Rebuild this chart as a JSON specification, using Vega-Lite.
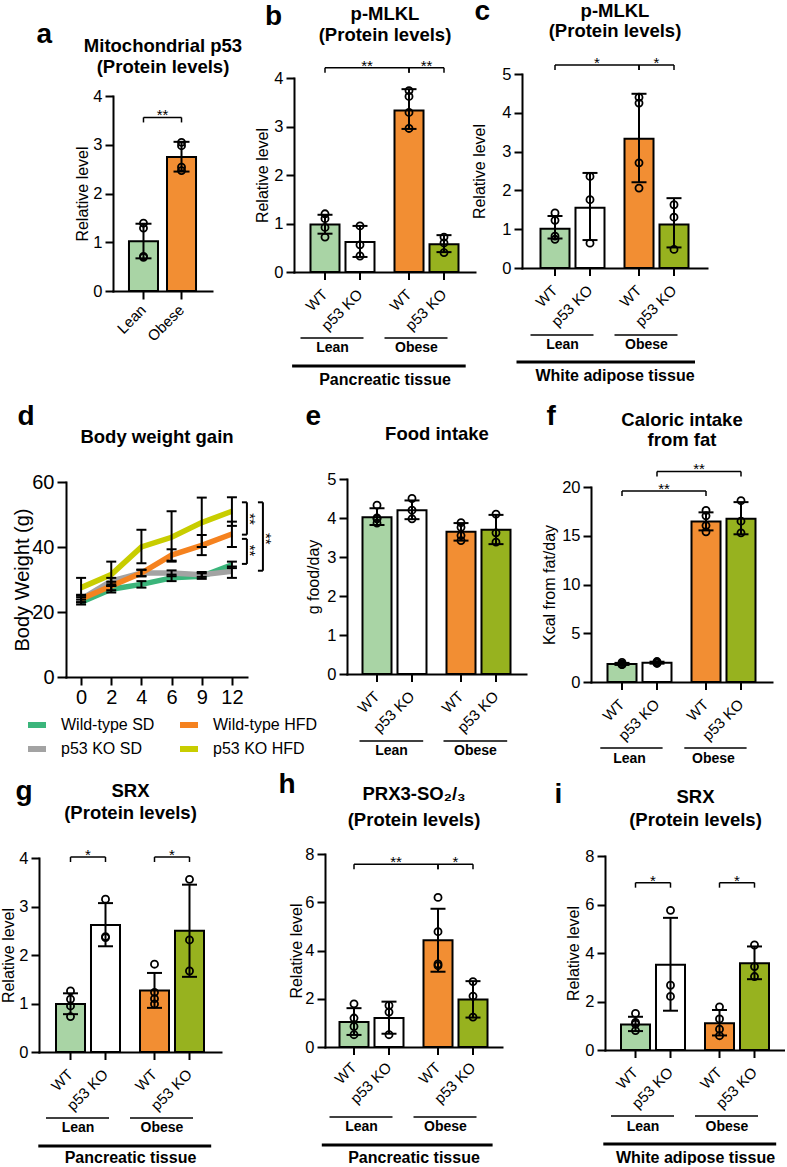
{
"$schema":"https://vega.github.io/schema/vega-lite/v6.json",
"padding":{"left":0,"top":-3,"right":0,"bottom":0},
"autosize":{"type":"pad"},
"bounds":"flush",
"spacing":405,
"config":{"font":"Liberation Sans","view":{"stroke":null},
"axis":{"domainColor":"black","domainWidth":2,"tickColor":"black","tickWidth":2,"tickSize":8,"labelColor":"black","titleColor":"black","labelFontSize":16.5,"titleFontSize":16,"titleFontWeight":"normal","labelPadding":3,"grid":false,"domainCap":"square"},
"text":{"color":"black"}},
"datasets":{
"bars":[
{"p":"a","group":"Lean","genotype":"WT","mean":1.02,"lo":0.67,"hi":1.38},
{"p":"a","group":"Obese","genotype":"WT","mean":2.75,"lo":2.45,"hi":3.06},
{"p":"b","group":"Lean","genotype":"WT","mean":0.98,"lo":0.79,"hi":1.18},
{"p":"b","group":"Lean","genotype":"p53 KO","mean":0.62,"lo":0.31,"hi":0.95},
{"p":"b","group":"Obese","genotype":"WT","mean":3.33,"lo":2.95,"hi":3.77},
{"p":"b","group":"Obese","genotype":"p53 KO","mean":0.57,"lo":0.41,"hi":0.76},
{"p":"c","group":"Lean","genotype":"WT","mean":1.01,"lo":0.76,"hi":1.34},
{"p":"c","group":"Lean","genotype":"p53 KO","mean":1.55,"lo":0.72,"hi":2.45},
{"p":"c","group":"Obese","genotype":"WT","mean":3.33,"lo":2.21,"hi":4.49},
{"p":"c","group":"Obese","genotype":"p53 KO","mean":1.12,"lo":0.53,"hi":1.8},
{"p":"e","group":"Lean","genotype":"WT","mean":4.02,"lo":3.82,"hi":4.25},
{"p":"e","group":"Lean","genotype":"p53 KO","mean":4.2,"lo":3.97,"hi":4.45},
{"p":"e","group":"Obese","genotype":"WT","mean":3.65,"lo":3.42,"hi":3.87},
{"p":"e","group":"Obese","genotype":"p53 KO","mean":3.7,"lo":3.33,"hi":4.08},
{"p":"f","group":"Lean","genotype":"WT","mean":1.85,"lo":1.75,"hi":1.96},
{"p":"f","group":"Lean","genotype":"p53 KO","mean":1.98,"lo":1.88,"hi":2.08},
{"p":"f","group":"Obese","genotype":"WT","mean":16.45,"lo":15.55,"hi":17.4},
{"p":"f","group":"Obese","genotype":"p53 KO","mean":16.75,"lo":15.15,"hi":18.45},
{"p":"g","group":"Lean","genotype":"WT","mean":0.99,"lo":0.78,"hi":1.21},
{"p":"g","group":"Lean","genotype":"p53 KO","mean":2.62,"lo":2.18,"hi":3.07},
{"p":"g","group":"Obese","genotype":"WT","mean":1.27,"lo":0.91,"hi":1.63},
{"p":"g","group":"Obese","genotype":"p53 KO","mean":2.5,"lo":1.55,"hi":3.45},
{"p":"h","group":"Lean","genotype":"WT","mean":1.04,"lo":0.5,"hi":1.61},
{"p":"h","group":"Lean","genotype":"p53 KO","mean":1.2,"lo":0.55,"hi":1.88},
{"p":"h","group":"Obese","genotype":"WT","mean":4.42,"lo":3.12,"hi":5.73},
{"p":"h","group":"Obese","genotype":"p53 KO","mean":1.97,"lo":1.22,"hi":2.73},
{"p":"i","group":"Lean","genotype":"WT","mean":1.05,"lo":0.78,"hi":1.37},
{"p":"i","group":"Lean","genotype":"p53 KO","mean":3.52,"lo":1.62,"hi":5.45},
{"p":"i","group":"Obese","genotype":"WT","mean":1.1,"lo":0.6,"hi":1.65},
{"p":"i","group":"Obese","genotype":"p53 KO","mean":3.58,"lo":2.92,"hi":4.27}
],
"pts":[
{"p":"a","group":"Lean","genotype":"WT","v":1.39},{"p":"a","group":"Lean","genotype":"WT","v":1.29},{"p":"a","group":"Lean","genotype":"WT","v":0.71},{"p":"a","group":"Lean","genotype":"WT","v":0.69},
{"p":"a","group":"Obese","genotype":"WT","v":3.05},{"p":"a","group":"Obese","genotype":"WT","v":2.98},{"p":"a","group":"Obese","genotype":"WT","v":2.54},{"p":"a","group":"Obese","genotype":"WT","v":2.47},
{"p":"b","group":"Lean","genotype":"WT","v":1.2},{"p":"b","group":"Lean","genotype":"WT","v":1.1},{"p":"b","group":"Lean","genotype":"WT","v":0.92},{"p":"b","group":"Lean","genotype":"WT","v":0.72},
{"p":"b","group":"Lean","genotype":"p53 KO","v":0.95},{"p":"b","group":"Lean","genotype":"p53 KO","v":0.56},{"p":"b","group":"Lean","genotype":"p53 KO","v":0.33},
{"p":"b","group":"Obese","genotype":"WT","v":3.74},{"p":"b","group":"Obese","genotype":"WT","v":3.62},{"p":"b","group":"Obese","genotype":"WT","v":3.29},{"p":"b","group":"Obese","genotype":"WT","v":2.96},
{"p":"b","group":"Obese","genotype":"p53 KO","v":0.72},{"p":"b","group":"Obese","genotype":"p53 KO","v":0.6},{"p":"b","group":"Obese","genotype":"p53 KO","v":0.4},
{"p":"c","group":"Lean","genotype":"WT","v":1.42},{"p":"c","group":"Lean","genotype":"WT","v":1.23},{"p":"c","group":"Lean","genotype":"WT","v":0.82},{"p":"c","group":"Lean","genotype":"WT","v":0.74},
{"p":"c","group":"Lean","genotype":"p53 KO","v":2.36},{"p":"c","group":"Lean","genotype":"p53 KO","v":1.76},{"p":"c","group":"Lean","genotype":"p53 KO","v":0.64},
{"p":"c","group":"Obese","genotype":"WT","v":4.4},{"p":"c","group":"Obese","genotype":"WT","v":4.25},{"p":"c","group":"Obese","genotype":"WT","v":2.71},{"p":"c","group":"Obese","genotype":"WT","v":2.06},
{"p":"c","group":"Obese","genotype":"p53 KO","v":1.63},{"p":"c","group":"Obese","genotype":"p53 KO","v":1.31},{"p":"c","group":"Obese","genotype":"p53 KO","v":0.48},
{"p":"e","group":"Lean","genotype":"WT","v":4.33},{"p":"e","group":"Lean","genotype":"WT","v":4.0},{"p":"e","group":"Lean","genotype":"WT","v":3.98},{"p":"e","group":"Lean","genotype":"WT","v":3.87},
{"p":"e","group":"Lean","genotype":"p53 KO","v":4.5},{"p":"e","group":"Lean","genotype":"p53 KO","v":4.2},{"p":"e","group":"Lean","genotype":"p53 KO","v":3.98},
{"p":"e","group":"Obese","genotype":"WT","v":3.88},{"p":"e","group":"Obese","genotype":"WT","v":3.76},{"p":"e","group":"Obese","genotype":"WT","v":3.55},{"p":"e","group":"Obese","genotype":"WT","v":3.42},
{"p":"e","group":"Obese","genotype":"p53 KO","v":4.1},{"p":"e","group":"Obese","genotype":"p53 KO","v":3.62},{"p":"e","group":"Obese","genotype":"p53 KO","v":3.38},
{"p":"f","group":"Lean","genotype":"WT","v":2.0},{"p":"f","group":"Lean","genotype":"WT","v":1.85},{"p":"f","group":"Lean","genotype":"WT","v":1.8},{"p":"f","group":"Lean","genotype":"WT","v":1.78},
{"p":"f","group":"Lean","genotype":"p53 KO","v":2.1},{"p":"f","group":"Lean","genotype":"p53 KO","v":2.0},{"p":"f","group":"Lean","genotype":"p53 KO","v":1.9},
{"p":"f","group":"Obese","genotype":"WT","v":17.6},{"p":"f","group":"Obese","genotype":"WT","v":17.05},{"p":"f","group":"Obese","genotype":"WT","v":16.05},{"p":"f","group":"Obese","genotype":"WT","v":15.4},
{"p":"f","group":"Obese","genotype":"p53 KO","v":18.6},{"p":"f","group":"Obese","genotype":"p53 KO","v":16.5},{"p":"f","group":"Obese","genotype":"p53 KO","v":15.3},
{"p":"g","group":"Lean","genotype":"WT","v":1.26},{"p":"g","group":"Lean","genotype":"WT","v":1.09},{"p":"g","group":"Lean","genotype":"WT","v":0.95},{"p":"g","group":"Lean","genotype":"WT","v":0.73},
{"p":"g","group":"Lean","genotype":"p53 KO","v":3.15},{"p":"g","group":"Lean","genotype":"p53 KO","v":2.38},{"p":"g","group":"Lean","genotype":"p53 KO","v":2.36},
{"p":"g","group":"Obese","genotype":"WT","v":1.81},{"p":"g","group":"Obese","genotype":"WT","v":1.23},{"p":"g","group":"Obese","genotype":"WT","v":1.1},{"p":"g","group":"Obese","genotype":"WT","v":0.99},
{"p":"g","group":"Obese","genotype":"p53 KO","v":3.56},{"p":"g","group":"Obese","genotype":"p53 KO","v":2.31},{"p":"g","group":"Obese","genotype":"p53 KO","v":1.67},
{"p":"h","group":"Lean","genotype":"WT","v":1.79},{"p":"h","group":"Lean","genotype":"WT","v":1.2},{"p":"h","group":"Lean","genotype":"WT","v":0.85},{"p":"h","group":"Lean","genotype":"WT","v":0.51},
{"p":"h","group":"Lean","genotype":"p53 KO","v":1.72},{"p":"h","group":"Lean","genotype":"p53 KO","v":1.45},{"p":"h","group":"Lean","genotype":"p53 KO","v":0.51},
{"p":"h","group":"Obese","genotype":"WT","v":6.2},{"p":"h","group":"Obese","genotype":"WT","v":4.78},{"p":"h","group":"Obese","genotype":"WT","v":3.44},{"p":"h","group":"Obese","genotype":"WT","v":3.37},
{"p":"h","group":"Obese","genotype":"p53 KO","v":2.71},{"p":"h","group":"Obese","genotype":"p53 KO","v":2.11},{"p":"h","group":"Obese","genotype":"p53 KO","v":1.24},
{"p":"i","group":"Lean","genotype":"WT","v":1.51},{"p":"i","group":"Lean","genotype":"WT","v":1.14},{"p":"i","group":"Lean","genotype":"WT","v":1.07},{"p":"i","group":"Lean","genotype":"WT","v":0.8},
{"p":"i","group":"Lean","genotype":"p53 KO","v":5.76},{"p":"i","group":"Lean","genotype":"p53 KO","v":2.67},{"p":"i","group":"Lean","genotype":"p53 KO","v":2.21},
{"p":"i","group":"Obese","genotype":"WT","v":1.78},{"p":"i","group":"Obese","genotype":"WT","v":1.28},{"p":"i","group":"Obese","genotype":"WT","v":0.86},{"p":"i","group":"Obese","genotype":"WT","v":0.59},
{"p":"i","group":"Obese","genotype":"p53 KO","v":4.33},{"p":"i","group":"Obese","genotype":"p53 KO","v":3.44},{"p":"i","group":"Obese","genotype":"p53 KO","v":3.03}
],
"sig":[
{"p":"a","g1":"Lean","k1":"WT","g2":"Obese","k2":"WT","y":3.56,"label":"**"},
{"p":"b","g1":"Lean","k1":"WT","g2":"Obese","k2":"WT","y":4.21,"label":"**"},
{"p":"b","g1":"Obese","k1":"WT","g2":"Obese","k2":"p53 KO","y":4.21,"label":"**"},
{"p":"c","g1":"Lean","k1":"WT","g2":"Obese","k2":"WT","y":5.23,"label":"*"},
{"p":"c","g1":"Obese","k1":"WT","g2":"Obese","k2":"p53 KO","y":5.23,"label":"*"},
{"p":"f","g1":"Lean","k1":"WT","g2":"Obese","k2":"WT","y":19.6,"label":"**"},
{"p":"f","g1":"Lean","k1":"p53 KO","g2":"Obese","k2":"p53 KO","y":21.6,"label":"**"},
{"p":"g","g1":"Lean","k1":"WT","g2":"Lean","k2":"p53 KO","y":4.02,"label":"*"},
{"p":"g","g1":"Obese","k1":"WT","g2":"Obese","k2":"p53 KO","y":4.02,"label":"*"},
{"p":"h","g1":"Lean","k1":"WT","g2":"Obese","k2":"WT","y":7.58,"label":"**"},
{"p":"h","g1":"Obese","k1":"WT","g2":"Obese","k2":"p53 KO","y":7.58,"label":"*"},
{"p":"i","g1":"Lean","k1":"WT","g2":"Lean","k2":"p53 KO","y":6.9,"label":"*"},
{"p":"i","g1":"Obese","k1":"WT","g2":"Obese","k2":"p53 KO","y":6.9,"label":"*"}
],
"wt":[
{"series":"Wild-type SD","week":0,"w":23,"lo":22.3,"hi":23.8},{"series":"Wild-type SD","week":2,"w":27,"lo":26,"hi":28},{"series":"Wild-type SD","week":4,"w":28.5,"lo":27.5,"hi":29.5},{"series":"Wild-type SD","week":6,"w":30.5,"lo":29.5,"hi":31.5},{"series":"Wild-type SD","week":9,"w":31,"lo":30.2,"hi":31.9},{"series":"Wild-type SD","week":12,"w":34.5,"lo":33.5,"hi":35.5},
{"series":"p53 KO SD","week":0,"w":24,"lo":23,"hi":25},{"series":"p53 KO SD","week":2,"w":29.5,"lo":28.5,"hi":30.5},{"series":"p53 KO SD","week":4,"w":32,"lo":31,"hi":33},{"series":"p53 KO SD","week":6,"w":32,"lo":31,"hi":32.8},{"series":"p53 KO SD","week":9,"w":31.5,"lo":30.8,"hi":32.3},{"series":"p53 KO SD","week":12,"w":32.5,"lo":30.5,"hi":34},
{"series":"Wild-type HFD","week":0,"w":24,"lo":23,"hi":25.3},{"series":"Wild-type HFD","week":2,"w":28,"lo":26.7,"hi":29.3},{"series":"Wild-type HFD","week":4,"w":32,"lo":31,"hi":33},{"series":"Wild-type HFD","week":6,"w":37.5,"lo":35.8,"hi":39.3},{"series":"Wild-type HFD","week":9,"w":40.5,"lo":37.5,"hi":43.7},{"series":"Wild-type HFD","week":12,"w":44,"lo":40,"hi":47.8},
{"series":"p53 KO HFD","week":0,"w":27.5,"lo":24.5,"hi":30.5},{"series":"p53 KO HFD","week":2,"w":31.5,"lo":28,"hi":35.5},{"series":"p53 KO HFD","week":4,"w":40,"lo":35,"hi":45.3},{"series":"p53 KO HFD","week":6,"w":43,"lo":35.5,"hi":51},{"series":"p53 KO HFD","week":9,"w":47.5,"lo":40,"hi":55.2},{"series":"p53 KO HFD","week":12,"w":51,"lo":46.5,"hi":55.3}
],
"dsig":[
{"kind":"inner","top":53.75,"bottom":43.8,"mid":48.6,"label":"**"},
{"kind":"inner","top":42.5,"bottom":34.8,"mid":38.9,"label":"**"},
{"kind":"outer","top":53.75,"bottom":32.7,"mid":42.5,"label":"**"}
]
},
"vconcat":[
{"hconcat":[
{"width":235,"height":217,"resolve":{"axis":{"x":"independent","y":"independent"}},"layer":[
{"data":{"name":"bars"},"transform":[{"filter":"datum.p=='a'"}],"mark":{"type":"bar","stroke":"black","strokeWidth":2},
"encoding":{"x":{"field":"group","type":"nominal","scale":{"domain":["Lean","Obese"],"range":[74,173],"paddingInner":0.237,"paddingOuter":0.42},"axis":{"orient":"bottom","labelAngle":-45,"labelAlign":"right","labelBaseline":"middle","labelFontSize":15,"labelPadding":8,"title":null}},
"y":{"field":"mean","type":"quantitative","scale":{"domain":[0,4],"range":[217,22],"nice":false},"axis":{"values":[0,1,2,3,4],"format":"d","title":"Relative level","titleX":-26,"titleBaseline":"alphabetic","offset":-74}},
"fill":{"condition":[{"test":"datum.group=='Lean'&&datum.genotype=='WT'","value":"#a9d4a5"},{"test":"datum.group=='Lean'","value":"#ffffff"},{"test":"datum.genotype=='WT'","value":"#f28e33"}],"value":"#97b21f"}}},
{"data":{"name":"bars"},"transform":[{"filter":"datum.p=='a'"}],"mark":{"type":"rule","color":"black","strokeWidth":2},
"encoding":{"x":{"field":"group","type":"nominal","axis":{"orient":"top","domain":false,"ticks":false,"labels":false,"title":["Mitochondrial p53","(Protein levels)"],"titleY":-22.3,"titleBaseline":"alphabetic","titleFontSize":18.5,"titleFontWeight":"bold","titleLineHeight":20.5}},"y":{"field":"lo","type":"quantitative","axis":null},"y2":{"field":"hi"}}},
{"data":{"name":"bars"},"transform":[{"filter":"datum.p=='a'"}],"mark":{"type":"tick","color":"black","thickness":2,"size":16,"opacity":1},
"encoding":{"x":{"field":"group","type":"nominal","axis":{"orient":"top","domain":false,"ticks":false,"labels":false,"title":"a","titleX":-3,"titleY":-31.7,"titleAlign":"left","titleBaseline":"alphabetic","titleFontSize":28,"titleFontWeight":"bold","titleAngle":0}},"y":{"field":"lo","type":"quantitative","axis":null}}},
{"data":{"name":"bars"},"transform":[{"filter":"datum.p=='a'"}],"mark":{"type":"tick","color":"black","thickness":2,"size":16,"opacity":1},
"encoding":{"x":{"field":"group","type":"nominal","axis":null},"y":{"field":"hi","type":"quantitative","axis":null}}},
{"data":{"name":"pts"},"transform":[{"filter":"datum.p=='a'"}],"mark":{"type":"point","filled":false,"color":"black","strokeWidth":1.8,"size":50,"opacity":1},
"encoding":{"x":{"field":"group","type":"nominal","axis":null},"y":{"field":"v","type":"quantitative","axis":null}}},
{"data":{"name":"sig"},"transform":[{"filter":"datum.p=='a'"}],"mark":{"type":"rule","color":"black","strokeWidth":1.5},
"encoding":{"x":{"field":"g1","type":"nominal","bandPosition":0.5,"axis":null},"x2":{"field":"g2","bandPosition":0.5},"y":{"field":"y","type":"quantitative","axis":null}}},
{"data":{"name":"sig"},"transform":[{"filter":"datum.p=='a'"}],"mark":{"type":"rule","color":"black","strokeWidth":1.5,"y2Offset":5},
"encoding":{"x":{"field":"g1","type":"nominal","axis":null},"y":{"field":"y","type":"quantitative","axis":null},"y2":{"field":"y"}}},
{"data":{"name":"sig"},"transform":[{"filter":"datum.p=='a'"}],"mark":{"type":"rule","color":"black","strokeWidth":1.5,"y2Offset":5},
"encoding":{"x":{"field":"g2","type":"nominal","axis":null},"y":{"field":"y","type":"quantitative","axis":null},"y2":{"field":"y"}}},
{"data":{"name":"sig"},"transform":[{"filter":"datum.p=='a'"}],"mark":{"type":"text","fontSize":15,"baseline":"alphabetic","yOffset":3,"color":"black"},
"encoding":{"x":{"field":"g1","type":"nominal","bandPosition":1.155,"axis":null},"y":{"field":"y","type":"quantitative","axis":null},"text":{"field":"label"}}}
]},
{"width":208,"height":198,"resolve":{"axis":{"x":"independent","y":"independent"}},"layer":[
{"data":{"name":"bars"},"transform":[{"filter":"datum.p=='b'"}],"mark":{"type":"rule","color":"black","strokeWidth":2,"y2Offset":8},
"encoding":{"x":{"field":"group","type":"nominal","scale":{"domain":["Lean","Obese"],"range":[0,181],"paddingInner":0.1667,"paddingOuter":0.1607},"axis":{"orient":"top","domain":false,"ticks":false,"labels":false,"title":["p-MLKL","(Protein levels)"],"titleY":-55,"titleBaseline":"alphabetic","titleFontSize":18.5,"titleFontWeight":"bold","titleLineHeight":21.5}},
"xOffset":{"field":"genotype","type":"nominal","scale":{"domain":["WT","p53 KO"],"paddingInner":0.171,"paddingOuter":0.0857}},
"y":{"datum":0,"type":"quantitative","scale":{"domain":[0,4],"range":[198,4],"nice":false},"axis":{"values":[0,1,2,3,4],"format":"d","title":"Relative level","titleX":-27,"titleBaseline":"alphabetic"}},"y2":{"datum":0}}},
{"data":{"name":"bars"},"transform":[{"filter":"datum.p=='b'"}],"mark":{"type":"bar","stroke":"black","strokeWidth":2},
"encoding":{"x":{"field":"group","type":"nominal","axis":{"orient":"bottom","ticks":false,"labelFontSize":14,"labelFontWeight":"bold","labelPadding":75,"labelBaseline":"middle","labelAngle":0,"labelOffset":-10,"title":"Pancreatic tissue","titleFontSize":16,"titleFontWeight":"bold","titleY":107,"titleBaseline":"middle"}},
"xOffset":{"field":"genotype","type":"nominal"},"y":{"field":"mean","type":"quantitative","axis":null},
"fill":{"condition":[{"test":"datum.group=='Lean'&&datum.genotype=='WT'","value":"#a9d4a5"},{"test":"datum.group=='Lean'","value":"#ffffff"},{"test":"datum.genotype=='WT'","value":"#f28e33"}],"value":"#97b21f"}}},
{"data":{"name":"bars"},"transform":[{"filter":"datum.p=='b'"}],"mark":{"type":"rule","color":"black","strokeWidth":2},
"encoding":{"x":{"field":"group","type":"nominal","axis":null},"xOffset":{"field":"genotype","type":"nominal"},"y":{"field":"lo","type":"quantitative","axis":null},"y2":{"field":"hi"}}},
{"data":{"name":"bars"},"transform":[{"filter":"datum.p=='b'"}],"mark":{"type":"tick","color":"black","thickness":2,"size":15,"opacity":1},
"encoding":{"x":{"field":"group","type":"nominal","axis":null},"xOffset":{"field":"genotype","type":"nominal"},"y":{"field":"lo","type":"quantitative","axis":null}}},
{"data":{"name":"bars"},"transform":[{"filter":"datum.p=='b'"}],"mark":{"type":"tick","color":"black","thickness":2,"size":15,"opacity":1},
"encoding":{"x":{"field":"group","type":"nominal","axis":null},"xOffset":{"field":"genotype","type":"nominal"},"y":{"field":"hi","type":"quantitative","axis":null}}},
{"data":{"name":"pts"},"transform":[{"filter":"datum.p=='b'"}],"mark":{"type":"point","filled":false,"color":"black","strokeWidth":1.8,"size":50,"opacity":1},
"encoding":{"x":{"field":"group","type":"nominal","axis":null},"xOffset":{"field":"genotype","type":"nominal"},"y":{"field":"v","type":"quantitative","axis":null}}},
{"data":{"name":"bars"},"transform":[{"filter":"datum.p=='b'"}],"mark":{"type":"text","angle":315,"align":"right","baseline":"middle","fontSize":15,"yOffset":20,"xOffset":2,"color":"black"},
"encoding":{"x":{"field":"group","type":"nominal","axis":{"orient":"top","domain":false,"ticks":false,"labels":false,"title":"b","titleX":-29.5,"titleY":-50,"titleAlign":"left","titleBaseline":"alphabetic","titleFontSize":28,"titleFontWeight":"bold","titleAngle":0}},"xOffset":{"field":"genotype","type":"nominal"},"y":{"datum":0,"type":"quantitative","axis":null},"text":{"field":"genotype"}}},
{"data":{"name":"bars"},"transform":[{"filter":"datum.p=='b'&&datum.genotype=='WT'"}],"mark":{"type":"rule","color":"black","strokeWidth":1.5,"yOffset":66},
"encoding":{"x":{"field":"group","type":"nominal","bandPosition":-0.1,"axis":null},"x2":{"field":"group","bandPosition":0.8},"y":{"datum":0,"type":"quantitative","axis":null}}},
{"data":{"name":"bars"},"transform":[{"filter":"datum.p=='b'&&datum.genotype=='WT'&&datum.group=='Lean'"}],"mark":{"type":"rule","color":"black","strokeWidth":3,"yOffset":94},
"encoding":{"x":{"datum":"Lean","type":"nominal","bandPosition":-0.22,"axis":null},"x2":{"datum":"Obese","bandPosition":1.06},"y":{"datum":0,"type":"quantitative","axis":null}}},
{"data":{"name":"sig"},"transform":[{"filter":"datum.p=='b'&&datum.k1==datum.k2&&datum.k1=='WT'"}],"mark":{"type":"rule","color":"black","strokeWidth":1.5},
"encoding":{"x":{"field":"g1","type":"nominal","bandPosition":0.25,"axis":null},"x2":{"field":"g2","bandPosition":0.25},"y":{"field":"y","type":"quantitative","axis":null}}},
{"data":{"name":"sig"},"transform":[{"filter":"datum.p=='b'&&datum.k1!=datum.k2"}],"mark":{"type":"rule","color":"black","strokeWidth":1.5},
"encoding":{"x":{"field":"g1","type":"nominal","bandPosition":0.25,"axis":null},"x2":{"field":"g2","bandPosition":0.75},"y":{"field":"y","type":"quantitative","axis":null}}},
{"data":{"name":"sig"},"transform":[{"filter":"datum.p=='b'"}],"mark":{"type":"rule","color":"black","strokeWidth":1.5,"y2Offset":5},
"encoding":{"x":{"field":"g1","type":"nominal","axis":null},"xOffset":{"field":"k1","type":"nominal"},"y":{"field":"y","type":"quantitative","axis":null},"y2":{"field":"y"}}},
{"data":{"name":"sig"},"transform":[{"filter":"datum.p=='b'"}],"mark":{"type":"rule","color":"black","strokeWidth":1.5,"y2Offset":5},
"encoding":{"x":{"field":"g2","type":"nominal","axis":null},"xOffset":{"field":"k2","type":"nominal"},"y":{"field":"y","type":"quantitative","axis":null},"y2":{"field":"y"}}},
{"data":{"name":"sig"},"transform":[{"filter":"datum.p=='b'&&datum.k1==datum.k2&&datum.k1=='WT'"}],"mark":{"type":"text","fontSize":15,"baseline":"alphabetic","yOffset":3,"color":"black"},
"encoding":{"x":{"field":"g1","type":"nominal","bandPosition":0.85,"axis":null},"y":{"field":"y","type":"quantitative","axis":null},"text":{"field":"label"}}},
{"data":{"name":"sig"},"transform":[{"filter":"datum.p=='b'&&datum.k1!=datum.k2"}],"mark":{"type":"text","fontSize":15,"baseline":"alphabetic","yOffset":3,"color":"black"},
"encoding":{"x":{"field":"g1","type":"nominal","bandPosition":0.5,"axis":null},"y":{"field":"y","type":"quantitative","axis":null},"text":{"field":"label"}}}
]},
{"width":185,"height":194,"resolve":{"axis":{"x":"independent","y":"independent"}},"layer":[
{"data":{"name":"bars"},"transform":[{"filter":"datum.p=='c'"}],"mark":{"type":"rule","color":"black","strokeWidth":2,"y2Offset":8},
"encoding":{"x":{"field":"group","type":"nominal","scale":{"domain":["Lean","Obese"],"range":[0,185],"paddingInner":0.1667,"paddingOuter":0.1845},"axis":{"orient":"top","domain":false,"ticks":false,"labels":false,"title":["p-MLKL","(Protein levels)"],"titleY":-58,"titleBaseline":"alphabetic","titleFontSize":18.5,"titleFontWeight":"bold","titleLineHeight":20.5}},
"xOffset":{"field":"genotype","type":"nominal","scale":{"domain":["WT","p53 KO"],"paddingInner":0.171,"paddingOuter":0.0857}},
"y":{"datum":0,"type":"quantitative","scale":{"domain":[0,5],"range":[194,0],"nice":false},"axis":{"values":[0,1,2,3,4,5],"format":"d","title":"Relative level","titleX":-38,"titleBaseline":"alphabetic"}},"y2":{"datum":0}}},
{"data":{"name":"bars"},"transform":[{"filter":"datum.p=='c'"}],"mark":{"type":"bar","stroke":"black","strokeWidth":2},
"encoding":{"x":{"field":"group","type":"nominal","axis":{"orient":"bottom","ticks":false,"labelFontSize":14,"labelFontWeight":"bold","labelPadding":76,"labelBaseline":"middle","labelAngle":0,"labelOffset":-10,"title":"White adipose tissue","titleFontSize":16,"titleFontWeight":"bold","titleY":107,"titleBaseline":"middle"}},
"xOffset":{"field":"genotype","type":"nominal"},"y":{"field":"mean","type":"quantitative","axis":null},
"fill":{"condition":[{"test":"datum.group=='Lean'&&datum.genotype=='WT'","value":"#a9d4a5"},{"test":"datum.group=='Lean'","value":"#ffffff"},{"test":"datum.genotype=='WT'","value":"#f28e33"}],"value":"#97b21f"}}},
{"data":{"name":"bars"},"transform":[{"filter":"datum.p=='c'"}],"mark":{"type":"rule","color":"black","strokeWidth":2},
"encoding":{"x":{"field":"group","type":"nominal","axis":null},"xOffset":{"field":"genotype","type":"nominal"},"y":{"field":"lo","type":"quantitative","axis":null},"y2":{"field":"hi"}}},
{"data":{"name":"bars"},"transform":[{"filter":"datum.p=='c'"}],"mark":{"type":"tick","color":"black","thickness":2,"size":15,"opacity":1},
"encoding":{"x":{"field":"group","type":"nominal","axis":null},"xOffset":{"field":"genotype","type":"nominal"},"y":{"field":"lo","type":"quantitative","axis":null}}},
{"data":{"name":"bars"},"transform":[{"filter":"datum.p=='c'"}],"mark":{"type":"tick","color":"black","thickness":2,"size":15,"opacity":1},
"encoding":{"x":{"field":"group","type":"nominal","axis":null},"xOffset":{"field":"genotype","type":"nominal"},"y":{"field":"hi","type":"quantitative","axis":null}}},
{"data":{"name":"pts"},"transform":[{"filter":"datum.p=='c'"}],"mark":{"type":"point","filled":false,"color":"black","strokeWidth":1.8,"size":50,"opacity":1},
"encoding":{"x":{"field":"group","type":"nominal","axis":null},"xOffset":{"field":"genotype","type":"nominal"},"y":{"field":"v","type":"quantitative","axis":null}}},
{"data":{"name":"bars"},"transform":[{"filter":"datum.p=='c'"}],"mark":{"type":"text","angle":315,"align":"right","baseline":"middle","fontSize":15,"yOffset":20,"xOffset":2,"color":"black"},
"encoding":{"x":{"field":"group","type":"nominal","axis":{"orient":"top","domain":false,"ticks":false,"labels":false,"title":"c","titleX":-48,"titleY":-55,"titleAlign":"left","titleBaseline":"alphabetic","titleFontSize":28,"titleFontWeight":"bold","titleAngle":0}},"xOffset":{"field":"genotype","type":"nominal"},"y":{"datum":0,"type":"quantitative","axis":null},"text":{"field":"genotype"}}},
{"data":{"name":"bars"},"transform":[{"filter":"datum.p=='c'&&datum.genotype=='WT'"}],"mark":{"type":"rule","color":"black","strokeWidth":1.5,"yOffset":67},
"encoding":{"x":{"field":"group","type":"nominal","bandPosition":-0.1,"axis":null},"x2":{"field":"group","bandPosition":0.8},"y":{"datum":0,"type":"quantitative","axis":null}}},
{"data":{"name":"bars"},"transform":[{"filter":"datum.p=='c'&&datum.genotype=='WT'&&datum.group=='Lean'"}],"mark":{"type":"rule","color":"black","strokeWidth":3,"yOffset":94},
"encoding":{"x":{"datum":"Lean","type":"nominal","bandPosition":-0.3,"axis":null},"x2":{"datum":"Obese","bandPosition":1.05},"y":{"datum":0,"type":"quantitative","axis":null}}},
{"data":{"name":"sig"},"transform":[{"filter":"datum.p=='c'&&datum.k1==datum.k2&&datum.k1=='WT'"}],"mark":{"type":"rule","color":"black","strokeWidth":1.5},
"encoding":{"x":{"field":"g1","type":"nominal","bandPosition":0.25,"axis":null},"x2":{"field":"g2","bandPosition":0.25},"y":{"field":"y","type":"quantitative","axis":null}}},
{"data":{"name":"sig"},"transform":[{"filter":"datum.p=='c'&&datum.k1!=datum.k2"}],"mark":{"type":"rule","color":"black","strokeWidth":1.5},
"encoding":{"x":{"field":"g1","type":"nominal","bandPosition":0.25,"axis":null},"x2":{"field":"g2","bandPosition":0.75},"y":{"field":"y","type":"quantitative","axis":null}}},
{"data":{"name":"sig"},"transform":[{"filter":"datum.p=='c'"}],"mark":{"type":"rule","color":"black","strokeWidth":1.5,"y2Offset":5},
"encoding":{"x":{"field":"g1","type":"nominal","axis":null},"xOffset":{"field":"k1","type":"nominal"},"y":{"field":"y","type":"quantitative","axis":null},"y2":{"field":"y"}}},
{"data":{"name":"sig"},"transform":[{"filter":"datum.p=='c'"}],"mark":{"type":"rule","color":"black","strokeWidth":1.5,"y2Offset":5},
"encoding":{"x":{"field":"g2","type":"nominal","axis":null},"xOffset":{"field":"k2","type":"nominal"},"y":{"field":"y","type":"quantitative","axis":null},"y2":{"field":"y"}}},
{"data":{"name":"sig"},"transform":[{"filter":"datum.p=='c'&&datum.k1==datum.k2&&datum.k1=='WT'"}],"mark":{"type":"text","fontSize":15,"baseline":"alphabetic","yOffset":3,"color":"black"},
"encoding":{"x":{"field":"g1","type":"nominal","bandPosition":0.85,"axis":null},"y":{"field":"y","type":"quantitative","axis":null},"text":{"field":"label"}}},
{"data":{"name":"sig"},"transform":[{"filter":"datum.p=='c'&&datum.k1!=datum.k2"}],"mark":{"type":"text","fontSize":15,"baseline":"alphabetic","yOffset":3,"color":"black"},
"encoding":{"x":{"field":"g1","type":"nominal","bandPosition":0.5,"axis":null},"y":{"field":"y","type":"quantitative","axis":null},"text":{"field":"label"}}}
]}
],"spacing":20,"bounds":"flush"},
{"vconcat":[
{"hconcat":[
{"width":288,"height":198,"resolve":{"axis":{"x":"independent","y":"independent"}},"layer":[
{"data":{"name":"wt"},"mark":{"type":"line","strokeWidth":5.5},
"encoding":{"x":{"field":"week","type":"ordinal","scale":{"type":"point","range":[27,208],"padding":0.5},"axis":{"orient":"bottom","labelAngle":0,"labelFontSize":20,"labelPadding":2,"title":null}},
"y":{"field":"w","type":"quantitative","scale":{"domain":[0,60],"range":[198,3],"nice":false},"axis":{"values":[0,20,40,60],"format":"d","labelFontSize":20,"title":"Body Weight (g)","titleFontSize":20,"titleX":-38,"titleBaseline":"alphabetic","offset":-27,"tickSize":9}},
"color":{"field":"series","type":"nominal","scale":{"domain":["Wild-type SD","p53 KO SD","Wild-type HFD","p53 KO HFD"],"range":["#3bb57b","#a3a3a3","#f5821f","#c8cd00"]},
"legend":{"orient":"none","legendX":-14,"legendY":639,"columns":2,"title":null,"symbolType":"stroke","symbolStrokeWidth":6,"symbolSize":324,"labelFontSize":16,"labelOffset":12,"columnPadding":13,"rowPadding":0,"padding":0,"labelLimit":300,"labelColor":"black"}}}},
{"data":{"name":"wt"},"mark":{"type":"rule","color":"black","strokeWidth":2},
"encoding":{"x":{"field":"week","type":"ordinal","axis":{"orient":"top","domain":false,"ticks":false,"labels":false,"title":"Body weight gain","titleY":-36.7,"titleBaseline":"alphabetic","titleFontSize":18.5,"titleFontWeight":"bold"}},"y":{"field":"lo","type":"quantitative","axis":null},"y2":{"field":"hi"}}},
{"data":{"name":"wt"},"mark":{"type":"tick","color":"black","thickness":2,"size":10,"opacity":1},
"encoding":{"x":{"field":"week","type":"ordinal","axis":{"orient":"top","domain":false,"ticks":false,"labels":false,"title":"d","titleX":-22,"titleY":-55,"titleAlign":"left","titleBaseline":"alphabetic","titleFontSize":28,"titleFontWeight":"bold","titleAngle":0}},"y":{"field":"lo","type":"quantitative","axis":null}}},
{"data":{"name":"wt"},"mark":{"type":"tick","color":"black","thickness":2,"size":10,"opacity":1},
"encoding":{"x":{"field":"week","type":"ordinal","axis":null},"y":{"field":"hi","type":"quantitative","axis":null}}},
{"data":{"name":"dsig"},"transform":[{"filter":"datum.kind=='inner'"}],"mark":{"type":"rule","color":"black","strokeWidth":2,"xOffset":15},
"encoding":{"x":{"datum":12,"type":"ordinal","axis":null},"y":{"field":"top","type":"quantitative","axis":null},"y2":{"field":"bottom"}}},
{"data":{"name":"dsig"},"transform":[{"filter":"datum.kind=='inner'"}],"mark":{"type":"rule","color":"black","strokeWidth":2,"xOffset":10,"x2Offset":15},
"encoding":{"x":{"datum":12,"type":"ordinal","axis":null},"x2":{"datum":12},"y":{"field":"top","type":"quantitative","axis":null}}},
{"data":{"name":"dsig"},"transform":[{"filter":"datum.kind=='inner'"}],"mark":{"type":"rule","color":"black","strokeWidth":2,"xOffset":10,"x2Offset":15},
"encoding":{"x":{"datum":12,"type":"ordinal","axis":null},"x2":{"datum":12},"y":{"field":"bottom","type":"quantitative","axis":null}}},
{"data":{"name":"dsig"},"transform":[{"filter":"datum.kind=='inner'"}],"mark":{"type":"text","angle":90,"fontSize":15,"baseline":"middle","xOffset":18,"color":"black","fill":"black"},
"encoding":{"x":{"datum":12,"type":"ordinal","axis":null},"y":{"field":"mid","type":"quantitative","axis":null},"text":{"field":"label"}}},
{"data":{"name":"dsig"},"transform":[{"filter":"datum.kind=='outer'"}],"mark":{"type":"rule","color":"black","strokeWidth":2,"xOffset":31},
"encoding":{"x":{"datum":12,"type":"ordinal","axis":null},"y":{"field":"top","type":"quantitative","axis":null},"y2":{"field":"bottom"}}},
{"data":{"name":"dsig"},"transform":[{"filter":"datum.kind=='outer'"}],"mark":{"type":"rule","color":"black","strokeWidth":2,"xOffset":26,"x2Offset":31},
"encoding":{"x":{"datum":12,"type":"ordinal","axis":null},"x2":{"datum":12},"y":{"field":"top","type":"quantitative","axis":null}}},
{"data":{"name":"dsig"},"transform":[{"filter":"datum.kind=='outer'"}],"mark":{"type":"rule","color":"black","strokeWidth":2,"xOffset":26,"x2Offset":31},
"encoding":{"x":{"datum":12,"type":"ordinal","axis":null},"x2":{"datum":12},"y":{"field":"bottom","type":"quantitative","axis":null}}},
{"data":{"name":"dsig"},"transform":[{"filter":"datum.kind=='outer'"}],"mark":{"type":"text","angle":90,"fontSize":15,"baseline":"middle","xOffset":34,"color":"black","fill":"black"},
"encoding":{"x":{"datum":12,"type":"ordinal","axis":null},"y":{"field":"mid","type":"quantitative","axis":null},"text":{"field":"label"}}}
]},
{"width":224,"height":195,"resolve":{"axis":{"x":"independent","y":"independent"}},"layer":[
{"data":{"name":"bars"},"transform":[{"filter":"datum.p=='e'"}],"mark":{"type":"rule","color":"black","strokeWidth":2,"y2Offset":8},
"encoding":{"x":{"field":"group","type":"nominal","scale":{"domain":["Lean","Obese"],"range":[0,179],"paddingInner":0.1667,"paddingOuter":0.1488},"axis":{"orient":"top","domain":false,"ticks":false,"labels":false,"title":"Food intake","titleY":-40,"titleBaseline":"alphabetic","titleFontSize":18.5,"titleFontWeight":"bold"}},
"xOffset":{"field":"genotype","type":"nominal","scale":{"domain":["WT","p53 KO"],"paddingInner":0.171,"paddingOuter":0.0857}},
"y":{"datum":0,"type":"quantitative","scale":{"domain":[0,5],"range":[195,0],"nice":false},"axis":{"values":[0,1,2,3,4,5],"format":"d","title":"g food/day","titleX":-28.5,"titleBaseline":"alphabetic"}},"y2":{"datum":0}}},
{"data":{"name":"bars"},"transform":[{"filter":"datum.p=='e'"}],"mark":{"type":"bar","stroke":"black","strokeWidth":2},
"encoding":{"x":{"field":"group","type":"nominal","axis":{"orient":"bottom","ticks":false,"labelFontSize":14,"labelFontWeight":"bold","labelPadding":76,"labelBaseline":"middle","labelAngle":0,"labelOffset":-3,"title":null}},
"xOffset":{"field":"genotype","type":"nominal"},"y":{"field":"mean","type":"quantitative","axis":null},
"fill":{"condition":[{"test":"datum.group=='Lean'&&datum.genotype=='WT'","value":"#a9d4a5"},{"test":"datum.group=='Lean'","value":"#ffffff"},{"test":"datum.genotype=='WT'","value":"#f28e33"}],"value":"#97b21f"}}},
{"data":{"name":"bars"},"transform":[{"filter":"datum.p=='e'"}],"mark":{"type":"rule","color":"black","strokeWidth":2},
"encoding":{"x":{"field":"group","type":"nominal","axis":null},"xOffset":{"field":"genotype","type":"nominal"},"y":{"field":"lo","type":"quantitative","axis":null},"y2":{"field":"hi"}}},
{"data":{"name":"bars"},"transform":[{"filter":"datum.p=='e'"}],"mark":{"type":"tick","color":"black","thickness":2,"size":15,"opacity":1},
"encoding":{"x":{"field":"group","type":"nominal","axis":null},"xOffset":{"field":"genotype","type":"nominal"},"y":{"field":"lo","type":"quantitative","axis":null}}},
{"data":{"name":"bars"},"transform":[{"filter":"datum.p=='e'"}],"mark":{"type":"tick","color":"black","thickness":2,"size":15,"opacity":1},
"encoding":{"x":{"field":"group","type":"nominal","axis":null},"xOffset":{"field":"genotype","type":"nominal"},"y":{"field":"hi","type":"quantitative","axis":null}}},
{"data":{"name":"pts"},"transform":[{"filter":"datum.p=='e'"}],"mark":{"type":"point","filled":false,"color":"black","strokeWidth":1.8,"size":50,"opacity":1},
"encoding":{"x":{"field":"group","type":"nominal","axis":null},"xOffset":{"field":"genotype","type":"nominal"},"y":{"field":"v","type":"quantitative","axis":null}}},
{"data":{"name":"bars"},"transform":[{"filter":"datum.p=='e'"}],"mark":{"type":"text","angle":315,"align":"right","baseline":"middle","fontSize":15,"yOffset":20,"xOffset":2,"color":"black"},
"encoding":{"x":{"field":"group","type":"nominal","axis":{"orient":"top","domain":false,"ticks":false,"labels":false,"title":"e","titleX":-42,"titleY":-55,"titleAlign":"left","titleBaseline":"alphabetic","titleFontSize":28,"titleFontWeight":"bold","titleAngle":0}},"xOffset":{"field":"genotype","type":"nominal"},"y":{"datum":0,"type":"quantitative","axis":null},"text":{"field":"genotype"}}},
{"data":{"name":"bars"},"transform":[{"filter":"datum.p=='e'&&datum.genotype=='WT'"}],"mark":{"type":"rule","color":"black","strokeWidth":1.5,"yOffset":67},
"encoding":{"x":{"field":"group","type":"nominal","bandPosition":0,"axis":null},"x2":{"field":"group","bandPosition":0.91},"y":{"datum":0,"type":"quantitative","axis":null}}}
]},
{"width":181,"height":203,"resolve":{"axis":{"x":"independent","y":"independent"}},"layer":[
{"data":{"name":"bars"},"transform":[{"filter":"datum.p=='f'"}],"mark":{"type":"rule","color":"black","strokeWidth":2,"y2Offset":8},
"encoding":{"x":{"field":"group","type":"nominal","scale":{"domain":["Lean","Obese"],"range":[0,181],"paddingInner":0.1667,"paddingOuter":0.1607},"axis":{"orient":"top","domain":false,"ticks":false,"labels":false,"title":["Caloric intake","from fat"],"titleY":-53.3,"titleBaseline":"alphabetic","titleFontSize":18.5,"titleFontWeight":"bold","titleLineHeight":20}},
"xOffset":{"field":"genotype","type":"nominal","scale":{"domain":["WT","p53 KO"],"paddingInner":0.171,"paddingOuter":0.0857}},
"y":{"datum":0,"type":"quantitative","scale":{"domain":[0,20],"range":[203,8],"nice":false},"axis":{"values":[0,5,10,15,20],"format":"d","title":"Kcal from fat/day","titleX":-37,"titleBaseline":"alphabetic"}},"y2":{"datum":0}}},
{"data":{"name":"bars"},"transform":[{"filter":"datum.p=='f'"}],"mark":{"type":"bar","stroke":"black","strokeWidth":2},
"encoding":{"x":{"field":"group","type":"nominal","axis":{"orient":"bottom","ticks":false,"labelFontSize":14,"labelFontWeight":"bold","labelPadding":76,"labelBaseline":"middle","labelAngle":0,"labelOffset":-10,"title":null}},
"xOffset":{"field":"genotype","type":"nominal"},"y":{"field":"mean","type":"quantitative","axis":null},
"fill":{"condition":[{"test":"datum.group=='Lean'&&datum.genotype=='WT'","value":"#a9d4a5"},{"test":"datum.group=='Lean'","value":"#ffffff"},{"test":"datum.genotype=='WT'","value":"#f28e33"}],"value":"#97b21f"}}},
{"data":{"name":"bars"},"transform":[{"filter":"datum.p=='f'"}],"mark":{"type":"rule","color":"black","strokeWidth":2},
"encoding":{"x":{"field":"group","type":"nominal","axis":null},"xOffset":{"field":"genotype","type":"nominal"},"y":{"field":"lo","type":"quantitative","axis":null},"y2":{"field":"hi"}}},
{"data":{"name":"bars"},"transform":[{"filter":"datum.p=='f'"}],"mark":{"type":"tick","color":"black","thickness":2,"size":15,"opacity":1},
"encoding":{"x":{"field":"group","type":"nominal","axis":null},"xOffset":{"field":"genotype","type":"nominal"},"y":{"field":"lo","type":"quantitative","axis":null}}},
{"data":{"name":"bars"},"transform":[{"filter":"datum.p=='f'"}],"mark":{"type":"tick","color":"black","thickness":2,"size":15,"opacity":1},
"encoding":{"x":{"field":"group","type":"nominal","axis":null},"xOffset":{"field":"genotype","type":"nominal"},"y":{"field":"hi","type":"quantitative","axis":null}}},
{"data":{"name":"pts"},"transform":[{"filter":"datum.p=='f'"}],"mark":{"type":"point","filled":false,"color":"black","strokeWidth":1.8,"size":50,"opacity":1},
"encoding":{"x":{"field":"group","type":"nominal","axis":null},"xOffset":{"field":"genotype","type":"nominal"},"y":{"field":"v","type":"quantitative","axis":null}}},
{"data":{"name":"bars"},"transform":[{"filter":"datum.p=='f'"}],"mark":{"type":"text","angle":315,"align":"right","baseline":"middle","fontSize":15,"yOffset":20,"xOffset":2,"color":"black"},
"encoding":{"x":{"field":"group","type":"nominal","axis":{"orient":"top","domain":false,"ticks":false,"labels":false,"title":"f","titleX":-45,"titleY":-55,"titleAlign":"left","titleBaseline":"alphabetic","titleFontSize":28,"titleFontWeight":"bold","titleAngle":0}},"xOffset":{"field":"genotype","type":"nominal"},"y":{"datum":0,"type":"quantitative","axis":null},"text":{"field":"genotype"}}},
{"data":{"name":"bars"},"transform":[{"filter":"datum.p=='f'&&datum.genotype=='WT'"}],"mark":{"type":"rule","color":"black","strokeWidth":1.5,"yOffset":66},
"encoding":{"x":{"field":"group","type":"nominal","bandPosition":-0.06,"axis":null},"x2":{"field":"group","bandPosition":0.83},"y":{"datum":0,"type":"quantitative","axis":null}}},
{"data":{"name":"sig"},"transform":[{"filter":"datum.p=='f'&&datum.k1==datum.k2&&datum.k1=='WT'"}],"mark":{"type":"rule","color":"black","strokeWidth":1.5},
"encoding":{"x":{"field":"g1","type":"nominal","bandPosition":0.25,"axis":null},"x2":{"field":"g2","bandPosition":0.25},"y":{"field":"y","type":"quantitative","axis":null}}},
{"data":{"name":"sig"},"transform":[{"filter":"datum.p=='f'&&datum.k1==datum.k2&&datum.k1=='p53 KO'"}],"mark":{"type":"rule","color":"black","strokeWidth":1.5},
"encoding":{"x":{"field":"g1","type":"nominal","bandPosition":0.75,"axis":null},"x2":{"field":"g2","bandPosition":0.75},"y":{"field":"y","type":"quantitative","axis":null}}},
{"data":{"name":"sig"},"transform":[{"filter":"datum.p=='f'"}],"mark":{"type":"rule","color":"black","strokeWidth":1.5,"y2Offset":5},
"encoding":{"x":{"field":"g1","type":"nominal","axis":null},"xOffset":{"field":"k1","type":"nominal"},"y":{"field":"y","type":"quantitative","axis":null},"y2":{"field":"y"}}},
{"data":{"name":"sig"},"transform":[{"filter":"datum.p=='f'"}],"mark":{"type":"rule","color":"black","strokeWidth":1.5,"y2Offset":5},
"encoding":{"x":{"field":"g2","type":"nominal","axis":null},"xOffset":{"field":"k2","type":"nominal"},"y":{"field":"y","type":"quantitative","axis":null},"y2":{"field":"y"}}},
{"data":{"name":"sig"},"transform":[{"filter":"datum.p=='f'&&datum.k1==datum.k2&&datum.k1=='WT'"}],"mark":{"type":"text","fontSize":15,"baseline":"alphabetic","yOffset":3,"color":"black"},
"encoding":{"x":{"field":"g1","type":"nominal","bandPosition":0.85,"axis":null},"y":{"field":"y","type":"quantitative","axis":null},"text":{"field":"label"}}},
{"data":{"name":"sig"},"transform":[{"filter":"datum.p=='f'&&datum.k1==datum.k2&&datum.k1=='p53 KO'"}],"mark":{"type":"text","fontSize":15,"baseline":"alphabetic","yOffset":3,"color":"black"},
"encoding":{"x":{"field":"g1","type":"nominal","bandPosition":1.35,"axis":null},"y":{"field":"y","type":"quantitative","axis":null},"text":{"field":"label"}}}
]}
],"spacing":20,"bounds":"flush"},
{"hconcat":[
{"width":266,"height":198,"resolve":{"axis":{"x":"independent","y":"independent"}},"layer":[
{"data":{"name":"bars"},"transform":[{"filter":"datum.p=='g'"}],"mark":{"type":"rule","color":"black","strokeWidth":2,"y2Offset":8},
"encoding":{"x":{"field":"group","type":"nominal","scale":{"domain":["Lean","Obese"],"range":[0,182],"paddingInner":0.1667,"paddingOuter":0.1667},"axis":{"orient":"top","domain":false,"ticks":false,"labels":false,"title":["SRX","(Protein levels)"],"titleY":-57.3,"titleBaseline":"alphabetic","titleFontSize":18.5,"titleFontWeight":"bold","titleLineHeight":22}},
"xOffset":{"field":"genotype","type":"nominal","scale":{"domain":["WT","p53 KO"],"paddingInner":0.171,"paddingOuter":0.0857}},
"y":{"datum":0,"type":"quantitative","scale":{"domain":[0,4],"range":[198,4],"nice":false},"axis":{"values":[0,1,2,3,4],"format":"d","title":"Relative level","titleX":-26,"titleBaseline":"alphabetic"}},"y2":{"datum":0}}},
{"data":{"name":"bars"},"transform":[{"filter":"datum.p=='g'"}],"mark":{"type":"bar","stroke":"black","strokeWidth":2},
"encoding":{"x":{"field":"group","type":"nominal","axis":{"orient":"bottom","ticks":false,"labelFontSize":14,"labelFontWeight":"bold","labelPadding":75,"labelBaseline":"middle","labelAngle":0,"labelOffset":-10,"title":"Pancreatic tissue","titleFontSize":16,"titleFontWeight":"bold","titleY":105,"titleBaseline":"middle"}},
"xOffset":{"field":"genotype","type":"nominal"},"y":{"field":"mean","type":"quantitative","axis":null},
"fill":{"condition":[{"test":"datum.group=='Lean'&&datum.genotype=='WT'","value":"#a9d4a5"},{"test":"datum.group=='Lean'","value":"#ffffff"},{"test":"datum.genotype=='WT'","value":"#f28e33"}],"value":"#97b21f"}}},
{"data":{"name":"bars"},"transform":[{"filter":"datum.p=='g'"}],"mark":{"type":"rule","color":"black","strokeWidth":2},
"encoding":{"x":{"field":"group","type":"nominal","axis":null},"xOffset":{"field":"genotype","type":"nominal"},"y":{"field":"lo","type":"quantitative","axis":null},"y2":{"field":"hi"}}},
{"data":{"name":"bars"},"transform":[{"filter":"datum.p=='g'"}],"mark":{"type":"tick","color":"black","thickness":2,"size":15,"opacity":1},
"encoding":{"x":{"field":"group","type":"nominal","axis":null},"xOffset":{"field":"genotype","type":"nominal"},"y":{"field":"lo","type":"quantitative","axis":null}}},
{"data":{"name":"bars"},"transform":[{"filter":"datum.p=='g'"}],"mark":{"type":"tick","color":"black","thickness":2,"size":15,"opacity":1},
"encoding":{"x":{"field":"group","type":"nominal","axis":null},"xOffset":{"field":"genotype","type":"nominal"},"y":{"field":"hi","type":"quantitative","axis":null}}},
{"data":{"name":"pts"},"transform":[{"filter":"datum.p=='g'"}],"mark":{"type":"point","filled":false,"color":"black","strokeWidth":1.8,"size":50,"opacity":1},
"encoding":{"x":{"field":"group","type":"nominal","axis":null},"xOffset":{"field":"genotype","type":"nominal"},"y":{"field":"v","type":"quantitative","axis":null}}},
{"data":{"name":"bars"},"transform":[{"filter":"datum.p=='g'"}],"mark":{"type":"text","angle":315,"align":"right","baseline":"middle","fontSize":15,"yOffset":20,"xOffset":2,"color":"black"},
"encoding":{"x":{"field":"group","type":"nominal","axis":{"orient":"top","domain":false,"ticks":false,"labels":false,"title":"g","titleX":-24,"titleY":-55,"titleAlign":"left","titleBaseline":"alphabetic","titleFontSize":28,"titleFontWeight":"bold","titleAngle":0}},"xOffset":{"field":"genotype","type":"nominal"},"y":{"datum":0,"type":"quantitative","axis":null},"text":{"field":"genotype"}}},
{"data":{"name":"bars"},"transform":[{"filter":"datum.p=='g'&&datum.genotype=='WT'"}],"mark":{"type":"rule","color":"black","strokeWidth":1.5,"yOffset":66},
"encoding":{"x":{"field":"group","type":"nominal","bandPosition":-0.1,"axis":null},"x2":{"field":"group","bandPosition":0.8},"y":{"datum":0,"type":"quantitative","axis":null}}},
{"data":{"name":"bars"},"transform":[{"filter":"datum.p=='g'&&datum.genotype=='WT'&&datum.group=='Lean'"}],"mark":{"type":"rule","color":"black","strokeWidth":3,"yOffset":94},
"encoding":{"x":{"datum":"Lean","type":"nominal","bandPosition":-0.21,"axis":null},"x2":{"datum":"Obese","bandPosition":1.06},"y":{"datum":0,"type":"quantitative","axis":null}}},
{"data":{"name":"sig"},"transform":[{"filter":"datum.p=='g'&&datum.k1!=datum.k2"}],"mark":{"type":"rule","color":"black","strokeWidth":1.5},
"encoding":{"x":{"field":"g1","type":"nominal","bandPosition":0.25,"axis":null},"x2":{"field":"g2","bandPosition":0.75},"y":{"field":"y","type":"quantitative","axis":null}}},
{"data":{"name":"sig"},"transform":[{"filter":"datum.p=='g'"}],"mark":{"type":"rule","color":"black","strokeWidth":1.5,"y2Offset":5},
"encoding":{"x":{"field":"g1","type":"nominal","axis":null},"xOffset":{"field":"k1","type":"nominal"},"y":{"field":"y","type":"quantitative","axis":null},"y2":{"field":"y"}}},
{"data":{"name":"sig"},"transform":[{"filter":"datum.p=='g'"}],"mark":{"type":"rule","color":"black","strokeWidth":1.5,"y2Offset":5},
"encoding":{"x":{"field":"g2","type":"nominal","axis":null},"xOffset":{"field":"k2","type":"nominal"},"y":{"field":"y","type":"quantitative","axis":null},"y2":{"field":"y"}}},
{"data":{"name":"sig"},"transform":[{"filter":"datum.p=='g'&&datum.k1!=datum.k2"}],"mark":{"type":"text","fontSize":15,"baseline":"alphabetic","yOffset":3,"color":"black"},
"encoding":{"x":{"field":"g1","type":"nominal","bandPosition":0.5,"axis":null},"y":{"field":"y","type":"quantitative","axis":null},"text":{"field":"label"}}}
]},
{"width":260,"height":193,"resolve":{"axis":{"x":"independent","y":"independent"}},"layer":[
{"data":{"name":"bars"},"transform":[{"filter":"datum.p=='h'"}],"mark":{"type":"rule","color":"black","strokeWidth":2,"y2Offset":8},
"encoding":{"x":{"field":"group","type":"nominal","scale":{"domain":["Lean","Obese"],"range":[0,177],"paddingInner":0.1667,"paddingOuter":0.1369},"axis":{"orient":"top","domain":false,"ticks":false,"labels":false,"title":["PRX3-SO₂/₃","(Protein levels)"],"titleY":-55,"titleBaseline":"alphabetic","titleFontSize":18.5,"titleFontWeight":"bold","titleLineHeight":26}},
"xOffset":{"field":"genotype","type":"nominal","scale":{"domain":["WT","p53 KO"],"paddingInner":0.171,"paddingOuter":0.0857}},
"y":{"datum":0,"type":"quantitative","scale":{"domain":[0,8],"range":[193,0],"nice":false},"axis":{"values":[0,2,4,6,8],"format":"d","title":"Relative level","titleX":-24,"titleBaseline":"alphabetic"}},"y2":{"datum":0}}},
{"data":{"name":"bars"},"transform":[{"filter":"datum.p=='h'"}],"mark":{"type":"bar","stroke":"black","strokeWidth":2},
"encoding":{"x":{"field":"group","type":"nominal","axis":{"orient":"bottom","ticks":false,"labelFontSize":14,"labelFontWeight":"bold","labelPadding":79,"labelBaseline":"middle","labelAngle":0,"labelOffset":-10,"title":"Pancreatic tissue","titleFontSize":16,"titleFontWeight":"bold","titleY":110,"titleBaseline":"middle"}},
"xOffset":{"field":"genotype","type":"nominal"},"y":{"field":"mean","type":"quantitative","axis":null},
"fill":{"condition":[{"test":"datum.group=='Lean'&&datum.genotype=='WT'","value":"#a9d4a5"},{"test":"datum.group=='Lean'","value":"#ffffff"},{"test":"datum.genotype=='WT'","value":"#f28e33"}],"value":"#97b21f"}}},
{"data":{"name":"bars"},"transform":[{"filter":"datum.p=='h'"}],"mark":{"type":"rule","color":"black","strokeWidth":2},
"encoding":{"x":{"field":"group","type":"nominal","axis":null},"xOffset":{"field":"genotype","type":"nominal"},"y":{"field":"lo","type":"quantitative","axis":null},"y2":{"field":"hi"}}},
{"data":{"name":"bars"},"transform":[{"filter":"datum.p=='h'"}],"mark":{"type":"tick","color":"black","thickness":2,"size":15,"opacity":1},
"encoding":{"x":{"field":"group","type":"nominal","axis":null},"xOffset":{"field":"genotype","type":"nominal"},"y":{"field":"lo","type":"quantitative","axis":null}}},
{"data":{"name":"bars"},"transform":[{"filter":"datum.p=='h'"}],"mark":{"type":"tick","color":"black","thickness":2,"size":15,"opacity":1},
"encoding":{"x":{"field":"group","type":"nominal","axis":null},"xOffset":{"field":"genotype","type":"nominal"},"y":{"field":"hi","type":"quantitative","axis":null}}},
{"data":{"name":"pts"},"transform":[{"filter":"datum.p=='h'"}],"mark":{"type":"point","filled":false,"color":"black","strokeWidth":1.8,"size":50,"opacity":1},
"encoding":{"x":{"field":"group","type":"nominal","axis":null},"xOffset":{"field":"genotype","type":"nominal"},"y":{"field":"v","type":"quantitative","axis":null}}},
{"data":{"name":"bars"},"transform":[{"filter":"datum.p=='h'"}],"mark":{"type":"text","angle":315,"align":"right","baseline":"middle","fontSize":15,"yOffset":18,"xOffset":2,"color":"black"},
"encoding":{"x":{"field":"group","type":"nominal","axis":{"orient":"top","domain":false,"ticks":false,"labels":false,"title":"h","titleX":-47,"titleY":-62,"titleAlign":"left","titleBaseline":"alphabetic","titleFontSize":28,"titleFontWeight":"bold","titleAngle":0}},"xOffset":{"field":"genotype","type":"nominal"},"y":{"datum":0,"type":"quantitative","axis":null},"text":{"field":"genotype"}}},
{"data":{"name":"bars"},"transform":[{"filter":"datum.p=='h'&&datum.genotype=='WT'"}],"mark":{"type":"rule","color":"black","strokeWidth":1.5,"yOffset":70},
"encoding":{"x":{"field":"group","type":"nominal","bandPosition":-0.1,"axis":null},"x2":{"field":"group","bandPosition":0.8},"y":{"datum":0,"type":"quantitative","axis":null}}},
{"data":{"name":"bars"},"transform":[{"filter":"datum.p=='h'&&datum.genotype=='WT'&&datum.group=='Lean'"}],"mark":{"type":"rule","color":"black","strokeWidth":3,"yOffset":98},
"encoding":{"x":{"datum":"Lean","type":"nominal","bandPosition":-0.21,"axis":null},"x2":{"datum":"Obese","bandPosition":1.03},"y":{"datum":0,"type":"quantitative","axis":null}}},
{"data":{"name":"sig"},"transform":[{"filter":"datum.p=='h'&&datum.k1==datum.k2&&datum.k1=='WT'"}],"mark":{"type":"rule","color":"black","strokeWidth":1.5},
"encoding":{"x":{"field":"g1","type":"nominal","bandPosition":0.25,"axis":null},"x2":{"field":"g2","bandPosition":0.25},"y":{"field":"y","type":"quantitative","axis":null}}},
{"data":{"name":"sig"},"transform":[{"filter":"datum.p=='h'&&datum.k1!=datum.k2"}],"mark":{"type":"rule","color":"black","strokeWidth":1.5},
"encoding":{"x":{"field":"g1","type":"nominal","bandPosition":0.25,"axis":null},"x2":{"field":"g2","bandPosition":0.75},"y":{"field":"y","type":"quantitative","axis":null}}},
{"data":{"name":"sig"},"transform":[{"filter":"datum.p=='h'"}],"mark":{"type":"rule","color":"black","strokeWidth":1.5,"y2Offset":5},
"encoding":{"x":{"field":"g1","type":"nominal","axis":null},"xOffset":{"field":"k1","type":"nominal"},"y":{"field":"y","type":"quantitative","axis":null},"y2":{"field":"y"}}},
{"data":{"name":"sig"},"transform":[{"filter":"datum.p=='h'"}],"mark":{"type":"rule","color":"black","strokeWidth":1.5,"y2Offset":5},
"encoding":{"x":{"field":"g2","type":"nominal","axis":null},"xOffset":{"field":"k2","type":"nominal"},"y":{"field":"y","type":"quantitative","axis":null},"y2":{"field":"y"}}},
{"data":{"name":"sig"},"transform":[{"filter":"datum.p=='h'&&datum.k1==datum.k2&&datum.k1=='WT'"}],"mark":{"type":"text","fontSize":15,"baseline":"alphabetic","yOffset":3,"color":"black"},
"encoding":{"x":{"field":"g1","type":"nominal","bandPosition":0.85,"axis":null},"y":{"field":"y","type":"quantitative","axis":null},"text":{"field":"label"}}},
{"data":{"name":"sig"},"transform":[{"filter":"datum.p=='h'&&datum.k1!=datum.k2"}],"mark":{"type":"text","fontSize":15,"baseline":"alphabetic","yOffset":3,"color":"black"},
"encoding":{"x":{"field":"g1","type":"nominal","bandPosition":0.5,"axis":null},"y":{"field":"y","type":"quantitative","axis":null},"text":{"field":"label"}}}
]},
{"width":180,"height":196,"resolve":{"axis":{"x":"independent","y":"independent"}},"layer":[
{"data":{"name":"bars"},"transform":[{"filter":"datum.p=='i'"}],"mark":{"type":"rule","color":"black","strokeWidth":2,"y2Offset":8},
"encoding":{"x":{"field":"group","type":"nominal","scale":{"domain":["Lean","Obese"],"range":[0,180],"paddingInner":0.1667,"paddingOuter":0.1548},"axis":{"orient":"top","domain":false,"ticks":false,"labels":false,"title":["SRX","(Protein levels)"],"titleY":-52,"titleBaseline":"alphabetic","titleFontSize":18.5,"titleFontWeight":"bold","titleLineHeight":23.5}},
"xOffset":{"field":"genotype","type":"nominal","scale":{"domain":["WT","p53 KO"],"paddingInner":0.171,"paddingOuter":0.0857}},
"y":{"datum":0,"type":"quantitative","scale":{"domain":[0,8],"range":[196,2],"nice":false},"axis":{"values":[0,2,4,6,8],"format":"d","title":"Relative level","titleX":-27,"titleBaseline":"alphabetic"}},"y2":{"datum":0}}},
{"data":{"name":"bars"},"transform":[{"filter":"datum.p=='i'"}],"mark":{"type":"bar","stroke":"black","strokeWidth":2},
"encoding":{"x":{"field":"group","type":"nominal","axis":{"orient":"bottom","ticks":false,"labelFontSize":14,"labelFontWeight":"bold","labelPadding":76,"labelBaseline":"middle","labelAngle":0,"labelOffset":-10,"title":"White adipose tissue","titleFontSize":16,"titleFontWeight":"bold","titleY":107,"titleBaseline":"middle"}},
"xOffset":{"field":"genotype","type":"nominal"},"y":{"field":"mean","type":"quantitative","axis":null},
"fill":{"condition":[{"test":"datum.group=='Lean'&&datum.genotype=='WT'","value":"#a9d4a5"},{"test":"datum.group=='Lean'","value":"#ffffff"},{"test":"datum.genotype=='WT'","value":"#f28e33"}],"value":"#97b21f"}}},
{"data":{"name":"bars"},"transform":[{"filter":"datum.p=='i'"}],"mark":{"type":"rule","color":"black","strokeWidth":2},
"encoding":{"x":{"field":"group","type":"nominal","axis":null},"xOffset":{"field":"genotype","type":"nominal"},"y":{"field":"lo","type":"quantitative","axis":null},"y2":{"field":"hi"}}},
{"data":{"name":"bars"},"transform":[{"filter":"datum.p=='i'"}],"mark":{"type":"tick","color":"black","thickness":2,"size":15,"opacity":1},
"encoding":{"x":{"field":"group","type":"nominal","axis":null},"xOffset":{"field":"genotype","type":"nominal"},"y":{"field":"lo","type":"quantitative","axis":null}}},
{"data":{"name":"bars"},"transform":[{"filter":"datum.p=='i'"}],"mark":{"type":"tick","color":"black","thickness":2,"size":15,"opacity":1},
"encoding":{"x":{"field":"group","type":"nominal","axis":null},"xOffset":{"field":"genotype","type":"nominal"},"y":{"field":"hi","type":"quantitative","axis":null}}},
{"data":{"name":"pts"},"transform":[{"filter":"datum.p=='i'"}],"mark":{"type":"point","filled":false,"color":"black","strokeWidth":1.8,"size":50,"opacity":1},
"encoding":{"x":{"field":"group","type":"nominal","axis":null},"xOffset":{"field":"genotype","type":"nominal"},"y":{"field":"v","type":"quantitative","axis":null}}},
{"data":{"name":"bars"},"transform":[{"filter":"datum.p=='i'"}],"mark":{"type":"text","angle":315,"align":"right","baseline":"middle","fontSize":15,"yOffset":20,"xOffset":2,"color":"black"},
"encoding":{"x":{"field":"group","type":"nominal","axis":{"orient":"top","domain":false,"ticks":false,"labels":false,"title":"i","titleX":-51,"titleY":-51.7,"titleAlign":"left","titleBaseline":"alphabetic","titleFontSize":28,"titleFontWeight":"bold","titleAngle":0}},"xOffset":{"field":"genotype","type":"nominal"},"y":{"datum":0,"type":"quantitative","axis":null},"text":{"field":"genotype"}}},
{"data":{"name":"bars"},"transform":[{"filter":"datum.p=='i'&&datum.genotype=='WT'"}],"mark":{"type":"rule","color":"black","strokeWidth":1.5,"yOffset":66},
"encoding":{"x":{"field":"group","type":"nominal","bandPosition":-0.1,"axis":null},"x2":{"field":"group","bandPosition":0.8},"y":{"datum":0,"type":"quantitative","axis":null}}},
{"data":{"name":"bars"},"transform":[{"filter":"datum.p=='i'&&datum.genotype=='WT'&&datum.group=='Lean'"}],"mark":{"type":"rule","color":"black","strokeWidth":3,"yOffset":94},
"encoding":{"x":{"datum":"Lean","type":"nominal","bandPosition":-0.21,"axis":null},"x2":{"datum":"Obese","bandPosition":1.06},"y":{"datum":0,"type":"quantitative","axis":null}}},
{"data":{"name":"sig"},"transform":[{"filter":"datum.p=='i'&&datum.k1!=datum.k2"}],"mark":{"type":"rule","color":"black","strokeWidth":1.5},
"encoding":{"x":{"field":"g1","type":"nominal","bandPosition":0.25,"axis":null},"x2":{"field":"g2","bandPosition":0.75},"y":{"field":"y","type":"quantitative","axis":null}}},
{"data":{"name":"sig"},"transform":[{"filter":"datum.p=='i'"}],"mark":{"type":"rule","color":"black","strokeWidth":1.5,"y2Offset":5},
"encoding":{"x":{"field":"g1","type":"nominal","axis":null},"xOffset":{"field":"k1","type":"nominal"},"y":{"field":"y","type":"quantitative","axis":null},"y2":{"field":"y"}}},
{"data":{"name":"sig"},"transform":[{"filter":"datum.p=='i'"}],"mark":{"type":"rule","color":"black","strokeWidth":1.5,"y2Offset":5},
"encoding":{"x":{"field":"g2","type":"nominal","axis":null},"xOffset":{"field":"k2","type":"nominal"},"y":{"field":"y","type":"quantitative","axis":null},"y2":{"field":"y"}}},
{"data":{"name":"sig"},"transform":[{"filter":"datum.p=='i'&&datum.k1!=datum.k2"}],"mark":{"type":"text","fontSize":15,"baseline":"alphabetic","yOffset":3,"color":"black"},
"encoding":{"x":{"field":"g1","type":"nominal","bandPosition":0.5,"axis":null},"y":{"field":"y","type":"quantitative","axis":null},"text":{"field":"label"}}}
]}
],"spacing":20,"bounds":"flush"}
],"spacing":375,"bounds":"flush"}
]
}
